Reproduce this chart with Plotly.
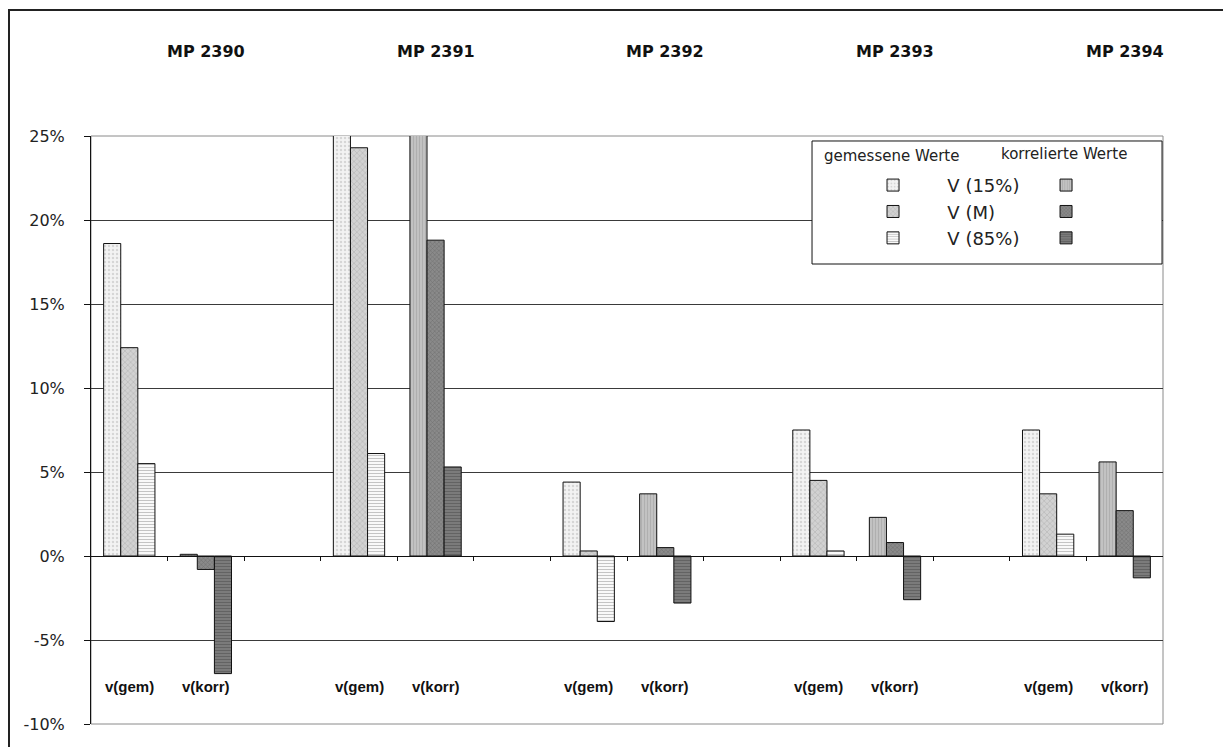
import plotly.graph_objects as go

mps = ["MP 2390", "MP 2391", "MP 2392", "MP 2393", "MP 2394"]
kinds = ["v(gem)", "v(korr)"]
series_names = ["V (15%)", "V (M)", "V (85%)"]

# measured values (%)
gem_15 = [18.6, 28.0, 4.4, 7.5, 7.5]
gem_M = [12.4, 24.3, 0.3, 4.5, 3.7]
gem_85 = [5.5, 6.1, -3.9, 0.3, 1.3]
# correlated values (%)
korr_15 = [0.1, 28.0, 3.7, 2.3, 5.6]
korr_M = [-0.8, 18.8, 0.5, 0.8, 2.7]
korr_85 = [-7.0, 5.3, -2.8, -2.6, -1.3]

y_ticks = [-10, -5, 0, 5, 10, 15, 20, 25]

gem_styles = [
    dict(color="#f0f0f0", bg="#f3f3f3", fg="#b8b8b8", shape=".", size=4, solidity=0.3),
    dict(color="#cfcfcf", bg="#d2d2d2", fg="#8c8c8c", shape="x", size=4, solidity=0.25),
    dict(color="#ffffff", bg="#ffffff", fg="#8a8a8a", shape="-", size=3, solidity=0.4),
]
korr_styles = [
    dict(color="#bdbdbd", bg="#c4c4c4", fg="#9a9a9a", shape="|", size=3, solidity=0.4),
    dict(color="#7f7f7f", bg="#8a8a8a", fg="#505050", shape="x", size=3, solidity=0.3),
    dict(color="#777777", bg="#7d7d7d", fg="#4a4a4a", shape="-", size=3, solidity=0.4),
]

n_mp = len(mps)
gem_x = [3 * i for i in range(n_mp)]
korr_x = [3 * i + 1 for i in range(n_mp)]
n_cat = 3 * n_mp - 1

fig = go.Figure()
gem_vals = [gem_15, gem_M, gem_85]
korr_vals = [korr_15, korr_M, korr_85]
pad = "\u00a0" * 6
for k in range(3):
    s = gem_styles[k]
    fig.add_trace(go.Bar(
        x=gem_x, y=gem_vals[k], name=pad + series_names[k], offsetgroup=str(k),
        legend="legend",
        marker=dict(color=s["color"], line=dict(color="#111111", width=1),
                    pattern=dict(shape=s["shape"], bgcolor=s["bg"], fgcolor=s["fg"],
                                 size=s["size"], solidity=s["solidity"])),
    ))
for k in range(3):
    s = korr_styles[k]
    fig.add_trace(go.Bar(
        x=korr_x, y=korr_vals[k], name="\u00a0", offsetgroup=str(k),
        legend="legend2",
        marker=dict(color=s["color"], line=dict(color="#111111", width=1),
                    pattern=dict(shape=s["shape"], bgcolor=s["bg"], fgcolor=s["fg"],
                                 size=s["size"], solidity=s["solidity"])),
    ))

annotations = []
mp_font = dict(family="DejaVu Sans", size=16, color="#111111")
kind_font = dict(family="Liberation Sans", size=15, color="#111111")
for i, mp in enumerate(mps):
    annotations.append(dict(x=korr_x[i], y=1.143, xref="x", yref="paper", text="<b>" + mp + "</b>",
                            showarrow=False, font=mp_font, xanchor="center", yanchor="middle"))
    annotations.append(dict(x=gem_x[i], y=-7.75, xref="x", yref="y", text="<b>" + kinds[0] + "</b>",
                            showarrow=False, font=kind_font, xanchor="center", yanchor="middle"))
    annotations.append(dict(x=korr_x[i], y=-7.75, xref="x", yref="y", text="<b>" + kinds[1] + "</b>",
                            showarrow=False, font=kind_font, xanchor="center", yanchor="middle"))

annotations.append(dict(x=0.6820, y=0.966, xref="paper", yref="paper", text="gemessene Werte",
                        showarrow=False, xanchor="left", yanchor="middle",
                        font=dict(family="DejaVu Sans", size=15, color="#222222")))
annotations.append(dict(x=0.8470, y=0.969, xref="paper", yref="paper", text="korrelierte Werte",
                        showarrow=False, xanchor="left", yanchor="middle",
                        font=dict(family="DejaVu Sans", size=15, color="#222222")))

shapes = [
    # outer frame
    dict(type="rect", xref="paper", yref="paper", x0=-0.0765, y0=-0.2, x1=1.2, y1=1.2143,
         line=dict(color="#222222", width=2), fillcolor="rgba(0,0,0,0)", layer="below"),
    # plot area frame
    dict(type="rect", xref="paper", yref="paper", x0=0, y0=0, x1=1, y1=1,
         line=dict(color="#8a8a8a", width=1), fillcolor="rgba(0,0,0,0)", layer="below"),
    # legend box
    dict(type="rect", xref="paper", yref="paper", x0=0.6726, y0=0.7823, x1=0.9991, y1=0.9915,
         line=dict(color="#111111", width=1), fillcolor="white", layer="above"),
]

fig.update_layout(
    width=1223, height=739,
    margin=dict(l=83, r=68, t=128, b=23),
    paper_bgcolor="white", plot_bgcolor="white",
    barmode="group", bargap=0.33, bargroupgap=0,
    showlegend=True,
    legend=dict(x=0.7295, y=0.9475, xanchor="left", yanchor="top", bgcolor="rgba(0,0,0,0)",
                borderwidth=0, font=dict(family="DejaVu Sans", size=18, color="#222222"),
                traceorder="normal"),
    legend2=dict(x=0.8909, y=0.9475, xanchor="left", yanchor="top", bgcolor="rgba(0,0,0,0)",
                 borderwidth=0, font=dict(family="DejaVu Sans", size=18, color="#222222"),
                 traceorder="normal"),
    xaxis=dict(range=[-0.5, n_cat - 0.5], showgrid=False, zeroline=False,
               showticklabels=False, tickmode="array",
               tickvals=[j + 0.5 for j in range(n_cat - 1)],
               ticks="outside", ticklen=4, tickcolor="#111111",
               showline=True, linecolor="#111111", linewidth=1,
               anchor="free", position=10 / 35),
    yaxis=dict(range=[-10, 25], tickmode="array", tickvals=y_ticks,
               ticktext=[f"{v}%" for v in y_ticks],
               showgrid=True, gridcolor="#3a3a3a", gridwidth=1,
               zeroline=False,
               ticks="outside", ticklen=6, tickcolor="#111111",
               showline=True, linecolor="#111111", linewidth=1,
               ticklabelstandoff=16,
               tickfont=dict(family="DejaVu Sans", size=16, color="#222222")),
    annotations=annotations,
    shapes=shapes,
)

fig.write_html("out.html")
